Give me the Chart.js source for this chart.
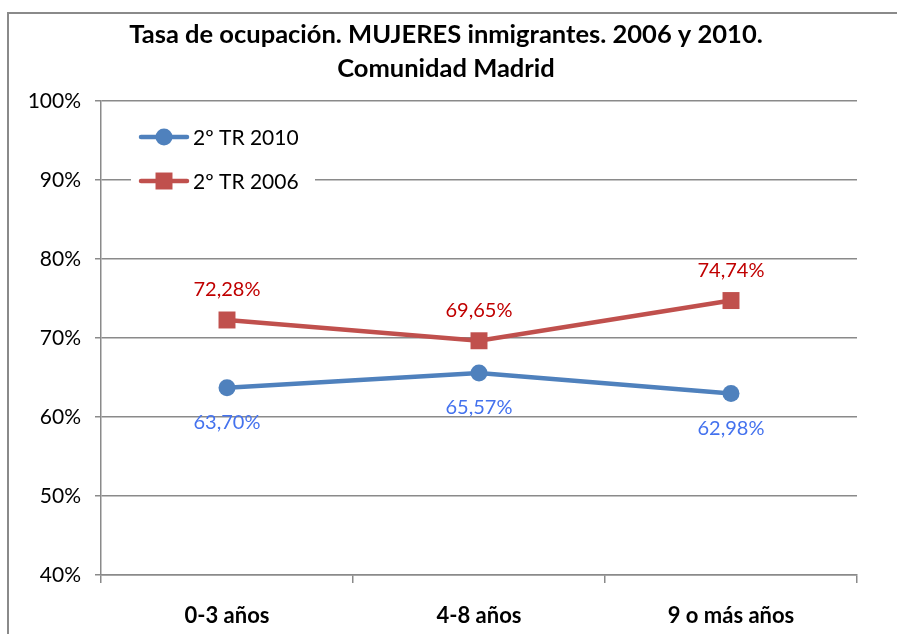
<!DOCTYPE html>
<html>
<head>
<meta charset="utf-8">
<script src="https://cdn.jsdelivr.net/npm/chart.js@4/dist/chart.umd.min.js"></script>
<style>
  html, body { margin: 0; padding: 0; background: #fff; }
  canvas { display: block; }
</style>
</head>
<body>
<canvas id="chart" width="897" height="634"></canvas>
<script>
// --- datos ---
const categories = ['0-3 años', '4-8 años', '9 o más años'];
const serie2010 = [63.70, 65.57, 62.98];
const serie2006 = [72.28, 69.65, 74.74];
const seriesNames = ['2º TR 2010', '2º TR 2006'];
const yTicks = [40, 50, 60, 70, 80, 90, 100];
const titleLines = ['Tasa de ocupación. MUJERES inmigrantes. 2006 y 2010.', 'Comunidad Madrid'];

const GRID = '#8a8a8a';
const FONT = 'Lato, "Open Sans", sans-serif';

// marco exterior (solo arriba e izquierda, como la captura)
const framePlugin = {
  id: 'frame',
  beforeDraw(chart) {
    const ctx = chart.ctx;
    ctx.save();
    ctx.fillStyle = '#fff';
    ctx.fillRect(0, 0, chart.width, chart.height);
    ctx.fillStyle = GRID;
    ctx.fillRect(7, 12, chart.width - 7, 2);
    ctx.fillRect(7, 12, 2, chart.height - 12);
    ctx.restore();
  }
};

// título en dos líneas, centrado sobre el área
const titlePlugin = {
  id: 'twoLineTitle',
  afterDraw(chart) {
    const ctx = chart.ctx;
    ctx.save();
    ctx.font = 'bold 25.5px ' + FONT;
    ctx.fillStyle = '#000';
    ctx.textAlign = 'center';
    ctx.textBaseline = 'alphabetic';
    ctx.fillText(titleLines[0], 446, 43);
    ctx.fillText(titleLines[1], 446, 77);
    ctx.restore();
  }
};

// etiquetas de valor encima / debajo de cada punto
const valueLabels = {
  id: 'valueLabels',
  afterDatasetsDraw(chart) {
    const ctx = chart.ctx;
    ctx.save();
    ctx.font = '20px ' + FONT;
    ctx.textAlign = 'center';
    ctx.textBaseline = 'middle';
    chart.data.datasets.forEach((ds, i) => {
      const meta = chart.getDatasetMeta(i);
      ctx.fillStyle = ds.labelColor;
      meta.data.forEach((pt, j) => {
        const txt = ds.data[j].toFixed(2).replace('.', ',') + '%';
        ctx.fillText(txt, pt.x, pt.y + ds.labelOffset);
      });
    });
    ctx.restore();
  }
};

// leyenda dentro del área de trazado, con fondo blanco
const insideLegend = {
  id: 'insideLegend',
  afterDatasetsDraw(chart) {
    const ctx = chart.ctx;
    const rows = [137, 181];
    ctx.save();
    ctx.fillStyle = '#fff';
    ctx.fillRect(131, 118, 184, 82);
    chart.data.datasets.forEach((ds, i) => {
      const y = rows[i];
      ctx.strokeStyle = ds.borderColor;
      ctx.lineWidth = ds.borderWidth;
      ctx.lineCap = 'round';
      ctx.beginPath();
      ctx.moveTo(141, y);
      ctx.lineTo(187, y);
      ctx.stroke();
      ctx.fillStyle = ds.backgroundColor;
      Chart.helpers.drawPoint(ctx, {
        pointStyle: ds.pointStyle, radius: ds.pointRadius, borderWidth: 0, rotation: 0
      }, 164, y);
      ctx.fillStyle = '#000';
      ctx.font = '21px ' + FONT;
      ctx.textAlign = 'left';
      ctx.textBaseline = 'middle';
      ctx.fillText(ds.label, 193, y + 1);
    });
    ctx.restore();
  }
};

new Chart(document.getElementById('chart'), {
  type: 'line',
  data: {
    labels: categories,
    datasets: [
      {
        label: seriesNames[0],
        data: serie2010,
        borderColor: '#4F81BD',
        backgroundColor: '#4F81BD',
        borderWidth: 4.5,
        pointStyle: 'circle',
        pointRadius: 8.5,
        pointBorderWidth: 0,
        labelColor: '#4472EE',
        labelOffset: 35,
        tension: 0
      },
      {
        label: seriesNames[1],
        data: serie2006,
        borderColor: '#C0504D',
        backgroundColor: '#C0504D',
        borderWidth: 4.5,
        pointStyle: 'rect',
        pointRadius: 12,
        pointBorderWidth: 0,
        labelColor: '#C00000',
        labelOffset: -30,
        tension: 0
      }
    ]
  },
  options: {
    responsive: false,
    animation: false,
    layout: { padding: { left: 0, right: 40, top: 101, bottom: 0 } },
    plugins: {
      legend: { display: false },
      title: { display: false },
      tooltip: { enabled: false }
    },
    scales: {
      x: {
        offset: true,
        grid: { display: true, drawOnChartArea: false, offset: true, tickLength: 8, color: GRID, lineWidth: 1.5 },
        border: { display: true, color: GRID, width: 1.5 },
        ticks: { color: '#000', font: { family: FONT, size: 22, weight: 'bold' }, padding: 20 },
        afterFit(scale) { scale.height = 59; }
      },
      y: {
        min: 40,
        max: 100,
        afterBuildTicks(scale) { scale.ticks = yTicks.map(v => ({ value: v })); },
        grid: { color: GRID, lineWidth: 1.5, tickLength: 6 },
        border: { display: true, color: GRID, width: 1.5 },
        ticks: {
          color: '#000',
          font: { family: FONT, size: 21 },
          padding: 14,
          callback: v => v + '%'
        },
        afterFit(scale) { scale.width = 101; }
      }
    }
  },
  plugins: [framePlugin, insideLegend, valueLabels, titlePlugin]
});
</script>
</body>
</html>
